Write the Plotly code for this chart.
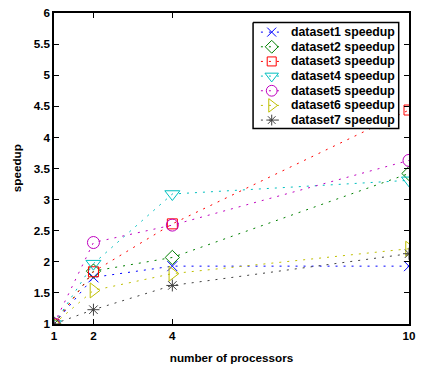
import plotly.graph_objects as go

# Processor counts and measured speedups per dataset
processors = [1, 2, 4, 10]
series_names = [
    "dataset1 speedup", "dataset2 speedup", "dataset3 speedup", "dataset4 speedup",
    "dataset5 speedup", "dataset6 speedup", "dataset7 speedup",
]
dataset1 = [1.0, 1.75, 1.93, 1.93]
dataset2 = [1.0, 1.85, 2.07, 3.42]
dataset3 = [1.0, 1.84, 2.61, 4.44]
dataset4 = [1.0, 1.97, 3.09, 3.31]
dataset5 = [1.0, 2.31, 2.59, 3.63]
dataset6 = [1.0, 1.54, 1.81, 2.21]
dataset7 = [1.0, 1.23, 1.62, 2.13]
speedups = [dataset1, dataset2, dataset3, dataset4, dataset5, dataset6, dataset7]

y_ticks = [1, 1.5, 2, 2.5, 3, 3.5, 4, 4.5, 5, 5.5, 6]
x_ticks = [1, 2, 4, 10]

# Styling
colors = ["#0000ff", "#008000", "#ff0000", "#00bfbf", "#bf00bf", "#bfbf00", "#404040"]
symbols = ["x-thin-open", "diamond-open", "square-open", "triangle-down-open",
           "circle-open", "triangle-right-open", "asterisk-open"]
sizes = [10, 11, 10, 13, 12, 13, 10]
dotted = "2px,6px"

font_main = dict(family="Liberation Sans, Arial, sans-serif", size=11.7, color="black", weight="bold")
font_legend = dict(family="Liberation Sans, Arial, sans-serif", size=12.3, color="black", weight="bold")

fig = go.Figure()
for name, vals, col, sym, sz in zip(series_names, speedups, colors, symbols, sizes):
    fig.add_trace(go.Scatter(
        x=processors, y=vals, name=name, mode="lines+markers", showlegend=False,
        line=dict(color=col, width=1, dash=dotted),
        marker=dict(symbol=sym, size=sz, color=col, line=dict(color=col, width=1)),
    ))

# Boxed legend drawn on an overlay axis measured in pixels of the plot area
PX_LEFT, PX_RIGHT, PX_TOP, PX_BOTTOM = 54, 416, 10, 324
box_l, box_r, box_t, box_b = 257, 405.5, 19.5, 126.5
row0, row_step = 29.3, 14.8
line_x0, line_x1, mark_x, text_x = 265, 285, 276, 294

leg = dict(xaxis="x2", yaxis="y2", hoverinfo="skip", showlegend=False)
fig.add_trace(go.Scatter(
    x=[box_l, box_r, box_r, box_l, box_l], y=[box_t, box_t, box_b, box_b, box_t],
    mode="lines", fill="toself", fillcolor="white",
    line=dict(color="black", width=1.5), **leg,
))
for i, (name, col, sym, sz) in enumerate(zip(series_names, colors, symbols, sizes)):
    yc = row0 + i * row_step
    fig.add_trace(go.Scatter(x=[line_x0, line_x1], y=[yc, yc], mode="lines",
                             line=dict(color=col, width=1, dash=dotted), **leg))
    fig.add_trace(go.Scatter(x=[mark_x], y=[yc], mode="markers",
                             marker=dict(symbol=sym, size=sz * 0.9, color=col,
                                         line=dict(color=col, width=1)), **leg))
    fig.add_annotation(x=text_x, y=yc, xref="x2", yref="y2", text=name,
                       showarrow=False, xanchor="left", yanchor="middle", font=font_legend)

# Vertical axis title, placed in paper coordinates left of the tick labels
fig.add_annotation(x=(16 - PX_LEFT) / (PX_RIGHT - PX_LEFT), y=0.5, xref="paper", yref="paper",
                   text="speedup", textangle=-90, showarrow=False,
                   xanchor="center", yanchor="middle", font=font_main)

axis_common = dict(
    showline=True, linecolor="black", linewidth=1.5, mirror="ticks",
    ticks="inside", ticklen=5, tickcolor="black", tickwidth=1,
    showgrid=False, zeroline=False, tickfont=font_main,
)

fig.update_layout(
    width=422, height=370,
    margin=dict(l=PX_LEFT, r=422 - PX_RIGHT, t=PX_TOP, b=370 - PX_BOTTOM),
    paper_bgcolor="white", plot_bgcolor="white",
    font=font_main,
    showlegend=False,
    xaxis=dict(range=[1, 10], tickvals=x_ticks, ticktext=[str(v) for v in x_ticks],
               title=dict(text="number of processors", font=font_main, standoff=13), **axis_common),
    yaxis=dict(range=[1, 6], tickvals=y_ticks, ticktext=[f"{v:g}" for v in y_ticks],
               **axis_common),
    xaxis2=dict(overlaying="x", range=[PX_LEFT, PX_RIGHT], visible=False, fixedrange=True),
    yaxis2=dict(overlaying="y", range=[PX_BOTTOM, PX_TOP], visible=False, fixedrange=True),
)

fig.write_html("out.html")
